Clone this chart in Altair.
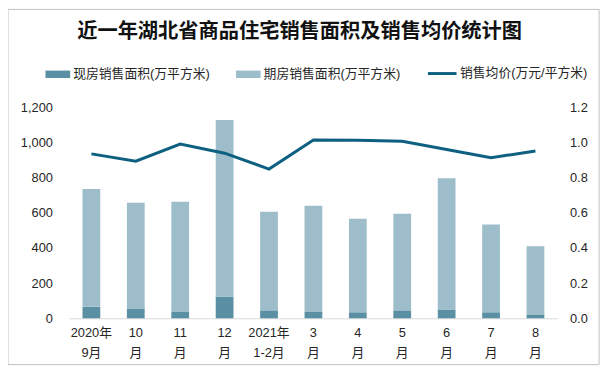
import altair as alt
import pandas as pd

categories = ["2020年|9月", "10|月", "11|月", "12|月", "2021年|1-2月",
              "3|月", "4|月", "5|月", "6|月", "7|月", "8|月"]
existing_area = [65, 56, 39, 123, 45, 39, 34, 45, 50, 34, 22]
futures_area = [670, 600, 623, 1004, 561, 600, 532, 549, 746, 499, 387]
avg_price = [0.934, 0.893, 0.990, 0.938, 0.848, 1.013, 1.012, 1.006, 0.959, 0.912, 0.951]
series_names = ["现房销售面积(万平方米)", "期房销售面积(万平方米)"]
line_name = "销售均价(万元/平方米)"
left_ticks = [0, 200, 400, 600, 800, 1000, 1200]
right_ticks = [0, 0.2, 0.4, 0.6, 0.8, 1.0, 1.2]

rows = []
for i, c in enumerate(categories):
    rows.append(dict(cat=c, series=series_names[0], value=existing_area[i], ord=0))
    rows.append(dict(cat=c, series=series_names[1], value=futures_area[i], ord=1))
bar_df = pd.DataFrame(rows)
line_df = pd.DataFrame(dict(cat=categories, price=avg_price, series=line_name))

FONT = "Liberation Sans, Noto Sans CJK SC, sans-serif"
TXT = "#262626"

xenc = alt.X(
    "cat:N", sort=categories,
    scale=alt.Scale(paddingInner=0.6, paddingOuter=0.3),
    axis=alt.Axis(title=None, labelAngle=0, labelExpr="split(datum.value, '|')",
                  ticks=False, domainColor="#d9d9d9", domainWidth=1,
                  labelPadding=8, labelLineHeight=21, labelFontSize=13,
                  labelColor=TXT, labelFont=FONT),
)

bars = alt.Chart(bar_df).mark_bar().encode(
    x=xenc,
    y=alt.Y("value:Q", stack="zero", scale=alt.Scale(domain=[0, 1200]),
            axis=alt.Axis(title=None, values=left_ticks,
                          labelExpr="format(datum.value, ',')", grid=False,
                          domain=False, ticks=False, labelPadding=17,
                          labelFontSize=13, labelColor=TXT, labelFont=FONT)),
    color=alt.Color("series:N",
                    scale=alt.Scale(domain=series_names, range=["#5b8fa4", "#9ebdca"]),
                    legend=alt.Legend(title=None, orient="none", legendX=-24, legendY=-46,
                                      direction="horizontal",
                                      symbolType="M-1,-0.3H1V0.3H-1Z", symbolSize=625,
                                      symbolStrokeWidth=0, symbolOpacity=1,
                                      labelFontSize=13, labelOffset=3, columnPadding=26,
                                      labelLimit=300, labelColor=TXT, labelFont=FONT)),
    order=alt.Order("ord:Q", sort="ascending"),
)

line = alt.Chart(line_df).mark_line(strokeWidth=3).encode(
    x=alt.X("cat:N", sort=categories),
    y=alt.Y("price:Q", scale=alt.Scale(domain=[0, 1.2]),
            axis=alt.Axis(title=None, orient="right", values=right_ticks,
                          labelExpr="format(datum.value, '.1f')",
                          grid=False, domain=False, ticks=False, labelPadding=12,
                          labelFontSize=13, labelColor=TXT, labelFont=FONT)),
    stroke=alt.Stroke("series:N",
                      scale=alt.Scale(domain=[line_name], range=["#0e6080"]),
                      legend=alt.Legend(title=None, orient="none", legendX=362, legendY=-50,
                                        symbolType="stroke", symbolSize=841,
                                        symbolStrokeWidth=3, labelFontSize=13,
                                        labelOffset=2, labelLimit=300,
                                        labelColor=TXT, labelFont=FONT)),
)

border = alt.Chart(pd.DataFrame({"a": [0]})).mark_rect(
    fill="transparent", stroke="#bfbfbf", strokeWidth=1
).encode(x=alt.value(-62), x2=alt.value(537), y=alt.value(-99), y2=alt.value(261))

chart = alt.layer(bars, line, border).resolve_scale(
    y="independent", color="independent", stroke="independent"
).properties(
    width=495, height=214,
    autosize=alt.AutoSizeParams(type="none"),
    padding={"left": 62, "top": 98, "right": 50, "bottom": 50},
    title=alt.TitleParams("近一年湖北省商品住宅销售面积及销售均价统计图", fontSize=20.5,
                          font="Noto Sans CJK SC", fontWeight="bold",
                          anchor="middle", dx=-14, dy=34, offset=0, color="#111111"),
).configure_view(stroke=None)

chart.save("out.html", embed_options={"renderer": "svg", "actions": False})
